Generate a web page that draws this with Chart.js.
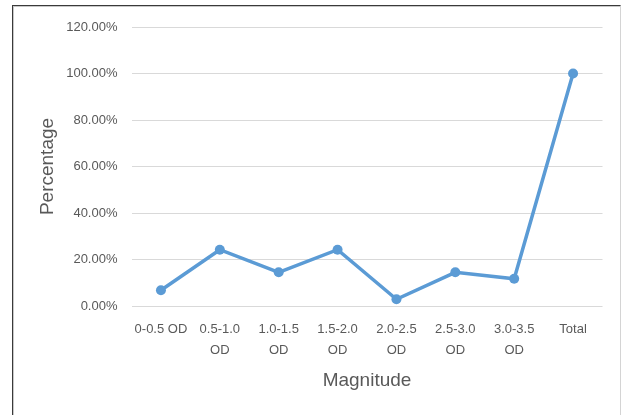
<!DOCTYPE html>
<html>
<head>
<meta charset="utf-8">
<script src="https://cdn.jsdelivr.net/npm/chart.js@4/dist/chart.umd.min.js"></script>
<style>
  html, body { margin: 0; padding: 0; background: #fff; }
  #wrap { position: relative; width: 621px; height: 415px; overflow: hidden; }
  .frame {
    position: absolute; left: 12px; top: 5px; width: 609px; height: 430px;
    box-sizing: border-box;
    border-left: 1px solid #3a3a3a; border-top: 1px solid #3a3a3a;
    border-right: 1px solid #d4d4d4;
    box-shadow: inset 1px 1px 0 #c8c8c8;
  }
  #box { position: absolute; left: 0; top: 0; width: 621px; height: 415px; }
</style>
</head>
<body>
<div id="wrap">
  <div class="frame"></div>
  <div id="box"><canvas id="chart"></canvas></div>
</div>
<script>
// Magnitude bins (multi-line labels as drawn under the axis)
const categories = [
  "0-0.5 OD",
  ["0.5-1.0", "OD"],
  ["1.0-1.5", "OD"],
  ["1.5-2.0", "OD"],
  ["2.0-2.5", "OD"],
  ["2.5-3.0", "OD"],
  ["3.0-3.5", "OD"],
  "Total"
];
// Share of cases per bin, in percent
const percentages = [6.8, 24.2, 14.5, 24.2, 2.9, 14.5, 11.7, 100];
// Value axis ticks
const yTicks = [0, 20, 40, 60, 80, 100, 120];

const tickFont = { family: "'Liberation Sans', Arial, sans-serif", size: 13, lineHeight: 1.6 };
const titleFont = { family: "'Liberation Sans', Arial, sans-serif", size: 19, lineHeight: 1.2 };
const textGray = "#595959";

new Chart(document.getElementById("chart"), {
  type: "line",
  data: {
    labels: categories,
    datasets: [{
      data: percentages,
      borderColor: "#5B9BD5",
      backgroundColor: "#5B9BD5",
      borderWidth: 3.5,
      pointRadius: 5,
      pointHoverRadius: 5,
      pointBorderWidth: 0,
      tension: 0,
      fill: false
    }]
  },
  options: {
    responsive: true,
    maintainAspectRatio: false,
    animation: false,
    layout: { padding: { left: 0, top: 27, right: 18.5, bottom: 0 } },
    plugins: { legend: { display: false }, tooltip: { enabled: false } },
    scales: {
      x: {
        offset: true,
        grid: { display: false, offset: true },
        border: { display: false },
        ticks: { color: textGray, font: tickFont, padding: 5, maxRotation: 0, autoSkip: false },
        title: { display: true, text: "Magnitude", color: textGray, font: titleFont, padding: { top: 0, bottom: 23 } },
        afterFit: s => { s.height = 109; s.paddingLeft = 0; s.paddingRight = 0; }
      },
      y: {
        min: 0,
        max: 120,
        afterBuildTicks: s => { s.ticks = yTicks.map(v => ({ value: v })); },
        grid: { color: "#d9d9d9", lineWidth: 1, drawTicks: false },
        border: { display: false },
        ticks: {
          color: textGray, font: tickFont, padding: 14,
          callback: v => v.toFixed(2) + "%"
        },
        title: { display: true, text: "Percentage", color: textGray, font: titleFont, padding: { top: 36, bottom: 0 } },
        afterFit: s => { s.width = 131.5; }
      }
    }
  }
});
</script>
</body>
</html>
